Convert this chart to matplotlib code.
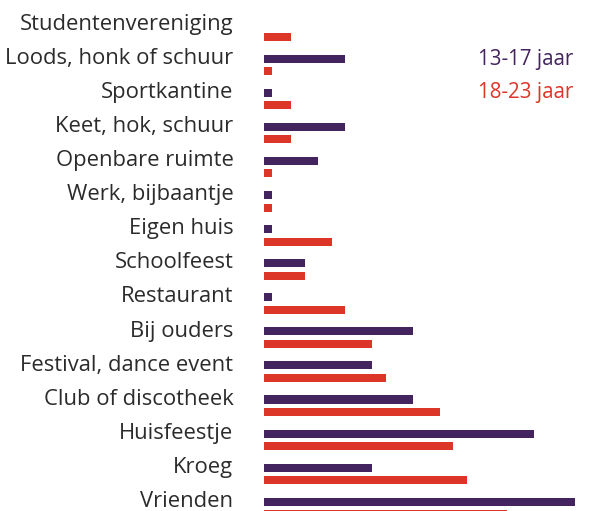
import numpy as np
import matplotlib.pyplot as plt

plt.rcParams['font.family'] = ['Open Sans', 'DejaVu Sans']

# categorieen (van boven naar beneden)
categories = ['Studentenvereniging', 'Loods, honk of schuur', 'Sportkantine',
              'Keet, hok, schuur', 'Openbare ruimte', 'Werk, bijbaantje',
              'Eigen huis', 'Schoolfeest', 'Restaurant', 'Bij ouders',
              'Festival, dance event', 'Club of discotheek', 'Huisfeestje',
              'Kroeg', 'Vrienden']
# percentages 13-17 jaar
young = [0, 6, 0.6, 6, 4, 0.6, 0.6, 3, 0.6, 11, 8, 11, 20, 8, 23]
# percentages 18-23 jaar
older = [2, 0.6, 2, 2, 0.6, 0.6, 5, 3, 6, 8, 9, 13, 14, 15, 18]
series_labels = ['13-17 jaar', '18-23 jaar']

purple = '#44245f'
red = '#db3628'

W, H = 590, 511
fig = plt.figure(figsize=(W / 100, H / 100), dpi=100)
ax = fig.add_axes([264 / W, 0, 1 - 264 / W, 1])

y = np.arange(len(categories))
ax.barh(y, young, height=0.235, color=purple)
ax.barh(y + 0.37, older, height=0.235, color=red)

ax.set_xlim(0, 326 / 13.5)
ax.set_ylim(14.27, -0.716)

ax.set_yticks(y - 0.08)
ax.set_yticklabels(categories, fontsize=15.8, color='#2b2b2b')
ax.tick_params(axis='y', length=0, pad=22)
ax.set_xticks([])
for s in ax.spines.values():
    s.set_visible(False)

# legenda als tekst
fig.text(573 / W, 1 - 65 / H, series_labels[0], ha='right', va='baseline',
         fontsize=14.8, color=purple)
fig.text(573 / W, 1 - 98 / H, series_labels[1], ha='right', va='baseline',
         fontsize=14.8, color=red)

fig.savefig('out.png', dpi=100)
